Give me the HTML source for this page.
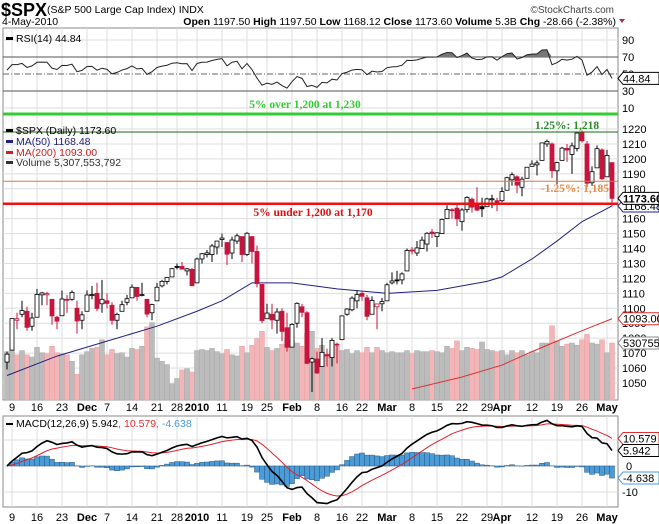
<!DOCTYPE html>
<html><head><meta charset="utf-8"><style>
body{margin:0;background:#fff}
svg{display:block;font-family:"Liberation Sans",sans-serif}
</style></head><body>
<svg id="c" width="659" height="524" viewBox="0 0 659 524" xmlns="http://www.w3.org/2000/svg">
<rect width="659" height="524" fill="#fff"/>
<g>
<text x="1" y="16" font-size="18" font-weight="bold">$SPX</text>
<text x="47" y="13" font-size="10.5">(S&amp;P 500 Large Cap Index) INDX</text>
<text x="614" y="13" font-size="10" text-anchor="end" fill="#444">©StockCharts.com</text>
<text x="2" y="25" font-size="10.5">4-May-2010</text>
<text x="616" y="25" font-size="10.5" text-anchor="end"><tspan font-weight="bold">Open</tspan> 1197.50 <tspan font-weight="bold">High</tspan> 1197.50 <tspan font-weight="bold">Low</tspan> 1168.12 <tspan font-weight="bold">Close</tspan> 1173.60 <tspan font-weight="bold">Volume</tspan> 5.3B <tspan font-weight="bold">Chg</tspan> -28.66 (-2.38%)</text>
<path d="M619 19 l6 0 l-3 4z" fill="#a03060"/>
</g>
<g id="grid"></g>
<g id="marks"></g>
<g id="labels"></g>
</svg>
<script>
const ohlc=[
[1064,1071,1059,1069.3],[1072,1093,1072,1093.1],[1092,1097,1086,1093.0],[1096,1105,1094,1098.5],[1098,1101,1085,1087.2],[1088,1097,1085,1093.5],[1094,1113,1094,1109.3],[1109,1111,1102,1110.3],[1109,1111,1102,1109.8],[1106,1106,1089,1094.9],[1094,1095,1086,1091.4],[1095,1112,1095,1106.2],[1106,1109,1097,1105.7],[1106,1112,1105,1110.6],[1100,1105,1083,1091.5],[1092,1098,1086,1095.6],
[1098,1112,1098,1108.9],[1109,1115,1106,1109.2],[1110,1117,1098,1099.9],[1103,1119,1097,1106.0],[1105,1110,1100,1103.3],[1102,1104,1089,1091.9],[1092,1097,1086,1095.9],[1098,1105,1098,1102.4],[1104,1109,1102,1106.4],[1107,1116,1107,1114.1],[1114,1114,1105,1107.9],[1109,1117,1108,1109.2],[1106,1106,1094,1096.1],[1097,1103,1092,1102.5],[1105,1117,1105,1114.1],[1115,1119,1114,1118.0],[1118,1121,1116,1120.6],[1121,1127,1121,1126.5],[1128,1130,1126,1127.8],[1128,1131,1126,1126.2],[1125,1127,1122,1126.4],[1126,1127,1115,1115.1],
[1117,1134,1117,1133.0],[1133,1137,1130,1136.5],[1136,1139,1134,1137.1],[1136,1143,1131,1141.7],[1141,1145,1136,1145.0],[1146,1150,1141,1147.0],[1144,1144,1129,1136.2],[1137,1148,1133,1145.7],[1145,1150,1143,1148.5],[1148,1148,1131,1136.0],[1136,1151,1135,1150.2],[1148,1148,1130,1138.0],[1138,1142,1114,1116.5],[1116,1116,1090,1091.8],[1093,1103,1093,1096.8],[1096,1103,1086,1092.2],[1092,1100,1083,1097.5],[1098,1100,1078,1084.5],[1087,1097,1071,1073.9],
[1074,1090,1074,1089.2],[1090,1104,1087,1103.3],[1101,1103,1094,1097.3],[1097,1098,1063,1063.1],[1064,1067,1044,1066.2],[1066,1071,1056,1056.7],[1061,1080,1061,1070.5],[1069,1073,1061,1068.1],[1067,1080,1061,1078.5],[1076,1077,1063,1075.5],[1079,1095,1079,1094.9],[1096,1100,1095,1099.5],[1099,1108,1098,1106.8],[1105,1112,1100,1109.2],[1110,1112,1105,1108.0],[1107,1109,1092,1094.6],[1096,1108,1096,1105.2],[1101,1103,1086,1102.9],[1103,1107,1098,1104.5],
[1105,1117,1105,1115.7],[1117,1124,1116,1118.3],[1119,1125,1116,1118.8],[1119,1124,1116,1123.0],[1125,1140,1125,1138.7],[1139,1141,1136,1138.5],[1137,1145,1135,1140.4],[1140,1148,1140,1145.6],[1143,1151,1138,1150.2],[1151,1153,1147,1150.0],[1148,1151,1141,1150.5],[1150,1160,1150,1159.5],[1160,1169,1160,1166.2],[1166,1167,1160,1165.8],[1167,1170,1155,1159.9],[1158,1167,1152,1165.8],[1166,1175,1164,1174.2],[1173,1174,1164,1167.7],[1170,1181,1165,1165.7],[1168,1174,1161,1166.6],[1168,1174,1168,1173.2],[1173,1176,1167,1173.3],[1172,1174,1165,1169.4],
[1172,1181,1171,1178.1],[1179,1188,1179,1187.4],[1186,1191,1182,1189.4],[1188,1189,1177,1182.4],[1181,1188,1175,1186.4],[1187,1194,1187,1194.4],[1195,1199,1195,1196.5],[1196,1199,1189,1197.3],[1199,1211,1199,1210.7],[1210,1213,1208,1211.7],[1210,1211,1187,1192.1],[1192,1198,1183,1197.5],[1199,1208,1199,1207.2],[1207,1210,1198,1205.9],[1203,1211,1190,1208.7],[1207,1218,1205,1217.3],[1218,1219,1211,1212.1],[1210,1212,1181,1183.7],[1184,1195,1182,1191.4],[1194,1209,1194,1206.8],[1206,1207,1186,1186.7],
[1188,1206,1188,1202.3],[1197.5,1197.5,1168.1,1173.6]];
const volumes=[4.5,4.6,4.2,4.6,4.2,4.0,4.9,4.4,4.3,5.0,4.4,4.3,4.2,3.6,2.4,4.2,
4.5,4.8,4.9,5.6,4.2,4.7,4.3,4.4,4.0,4.8,4.7,5.0,6.8,7.2,3.9,3.6,3.3,1.5,2.0,2.8,2.9,2.6,
4.6,4.7,4.6,4.8,4.5,4.3,4.7,4.2,4.1,5.0,4.4,5.1,5.7,6.4,4.9,4.6,4.8,5.2,5.7,
5.5,5.3,5.0,6.2,6.4,4.8,5.1,4.2,4.6,5.0,4.6,4.7,4.3,4.6,4.4,4.9,4.4,4.9,4.6,
4.4,4.5,4.4,4.4,4.6,4.3,4.6,4.5,4.5,4.6,4.5,4.4,5.0,4.8,5.5,4.6,4.9,4.8,4.7,5.4,4.7,4.6,4.5,
4.6,4.2,4.6,4.4,4.6,4.2,4.5,4.4,5.3,5.3,6.9,5.5,5.0,5.2,5.3,5.1,5.6,6.1,5.3,5.2,5.6,
4.4,5.3];
const ma50Idx=[0,10,20,30,38,43,49,57,66,76,86,96,99,105,110,115,121];
const ma50Val=[1055,1068,1078,1088,1098,1105,1117,1117,1113,1110,1112,1118,1121,1133,1145,1158,1168.5];
const ma200Idx=[81,91,99,105,110,115,121];
const ma200Val=[1046,1054,1062,1071,1078,1085,1093];
const priceTicks=[1220,1210,1200,1190,1180,1170,1160,1150,1140,1130,1120,1110,1100,1090,1080,1070,1060,1050];
const rsiTicks=[90,70,50,30,10];
const macdTicks=[0,-10];
const xLabIdx=[1,6,11,16,20,25,30,34,38,43,48,52,57,62,67,71,76,81,86,91,96,99,105,110,115,120];
const xLabTxt=["9","16","23","Dec","7","14","21","28","2010","11","19","25","Feb","8","16","22","Mar","8","15","22","29","Apr","12","19","26","May"];
const boldLab=["Dec","2010","Feb","Mar","Apr","May"];

const NS="http://www.w3.org/2000/svg";
const X=i=>7+5*i;
const PY=p=>129-(p-1220)*1.494;
const RY=r=>74-(r-50)*0.85;
const MY=m=>466-m*2.6;
const VY=v=>400-v*10.75;
function mk(tag,attrs,parent){const e=document.createElementNS(NS,tag);for(const k in attrs)e.setAttribute(k,attrs[k]);(parent||document.getElementById('marks')).appendChild(e);return e;}
const grid=document.getElementById('grid'),labs=document.getElementById('labels');
const L=3,R=618;
const panels=[[28,113],[113,400],[416,507]];
panels.forEach((p,k)=>{const r=mk('rect',{x:L,y:p[0],width:R-L,height:p[1]-p[0],fill:'none',stroke:'#888'},grid);

});
xLabIdx.forEach(i=>{panels.forEach(p=>{const l=mk('line',{x1:X(i),x2:X(i),y1:p[0],y2:p[1],stroke:'#ddd'},grid);

});});
priceTicks.forEach(t=>{const l=mk('line',{x1:L,x2:R,y1:PY(t),y2:PY(t),stroke:'#ddd'},grid);


const tx=mk('text',{x:622,y:PY(t)+4,'font-size':11},labs);tx.textContent=t;

});
rsiTicks.forEach(t=>{const st=(t==70||t==30)?'#555':'#ddd';const l=mk('line',{x1:L,x2:R,y1:RY(t),y2:RY(t),stroke:t==50?'#666':st,'stroke-dasharray':t==50?'6,2,1,2':'none'},grid);


const tx=mk('text',{x:622,y:RY(t)+4,'font-size':11},labs);tx.textContent=t;

});
[10,-10,0].forEach(t=>{const l=mk('line',{x1:L,x2:R,y1:MY(t),y2:MY(t),stroke:'#ddd'},grid);

});
macdTicks.forEach(t=>{const tx=mk('text',{x:t==0?626:622,y:MY(t)+4,'font-size':11},labs);tx.textContent=t;

});
[407,517].forEach(yy=>{xLabIdx.forEach((i,k)=>{const tx=mk('text',{x:X(i),y:yy+4,'font-size':11,'text-anchor':'middle','font-weight':boldLab.includes(xLabTxt[k])?'bold':'normal'},labs);tx.textContent=xLabTxt[k];

});});
const closes=ohlc.map(d=>d[3]);
volumes.forEach((v,i)=>{const up=i==0||closes[i]>=closes[i-1];const r=mk('rect',{x:X(i)-2.5,y:VY(v),width:5,height:400-VY(v),fill:up?'#bcbcbc':'#f2b6b8',stroke:up?'#aaa':'#e8a0a4','stroke-width':0.5});

});
let ag=6,al=5;const rsi=[100-100/(1+ag/al)];
for(let i=1;i<closes.length;i++){const d=closes[i]-closes[i-1];ag=(ag*13+Math.max(d,0))/14;al=(al*13+Math.max(-d,0))/14;rsi.push(100-100/(1+ag/al));}
let fillP='';rsi.forEach((r,i)=>{fillP+=(i?'L':'M')+X(i)+' '+Math.min(RY(r),RY(70));});
for(let i=rsi.length-1;i>=0;i--)fillP+='L'+X(i)+' '+RY(70);
const rf=mk('path',{d:fillP+'Z',fill:'#777'});


const rl=mk('polyline',{points:rsi.map((r,i)=>X(i)+','+RY(r)).join(' '),fill:'none',stroke:'#222','stroke-width':1});


let e12=closes[0],e26=closes[0],sig=0;const macd=[],sg=[];
closes.forEach(c=>{e12=e12+(c-e12)*2/13;e26=e26+(c-e26)*2/27;const m=e12-e26;sig=sig+(m-sig)*2/10;macd.push(m);sg.push(sig);});
macd.forEach((m,i)=>{const h=m-sg[i];const r=mk('rect',{x:X(i)-2.5,y:Math.min(MY(0),MY(h)),width:5,height:Math.abs(MY(h)-MY(0)),fill:'#4a9bd6',stroke:'#2a5a85','stroke-width':0.5});

});
const sl=mk('polyline',{points:sg.map((v,i)=>X(i)+','+MY(v)).join(' '),fill:'none',stroke:'#e0202a','stroke-width':1});


const ml=mk('polyline',{points:macd.map((v,i)=>X(i)+','+MY(v)).join(' '),fill:'none',stroke:'#000','stroke-width':1.6});


const m50=mk('polyline',{points:ma50Idx.map((i,k)=>X(i)+','+PY(ma50Val[k])).join(' '),fill:'none',stroke:'#22227a','stroke-width':1});


const m200=mk('polyline',{points:ma200Idx.map((i,k)=>X(i)+','+PY(ma200Val[k])).join(' '),fill:'none',stroke:'#e03030','stroke-width':1});


ohlc.forEach((d,i)=>{const [o,h,l,c]=d;const col=(i>0&&c<closes[i-1])?'#c8143c':'#000';
const w=mk('line',{x1:X(i),x2:X(i),y1:PY(h),y2:PY(l),stroke:col,'stroke-width':1});


const top=PY(Math.max(o,c)),bot=PY(Math.min(o,c));
const b=mk('rect',{x:X(i)-2,y:top,width:4,height:Math.max(bot-top,1),fill:c<o?col:'#fff',stroke:col,'stroke-width':0.8});

});
[[1230,'#33cc33',3,'line-5pct-over'],[1218,'#1a6a1a',1,'line-1-25pct-over'],[1185,'#e87040',1,'line-1-25pct-under'],[1170,'#ee1111',2.5,'line-5pct-under']].forEach(a=>{const l=mk('line',{x1:L,x2:R,y1:PY(a[0]),y2:PY(a[0]),stroke:a[1],'stroke-width':a[2]});

});
const anno=[[305,108,'5% over 1,200 at 1,230','#33cc33'],[313,216,'5% under 1,200 at 1,170','#dd1111'],[567,129,'1.25%: 1,218','#2a8a2a'],[575,192,'-1.25%: 1,185','#e88a40']];
anno.forEach(a=>{const t=mk('text',{x:a[0],y:a[1],'font-size':11.5,'font-weight':'bold','font-family':'Liberation Serif, serif','text-anchor':'middle',fill:a[3]},labs);t.textContent=a[2];

});
function box(y,txt,col,name){const g=mk('g',{},labs);
mk('path',{d:`M618 ${y} l5 -6 h36 v12 h-36z`,fill:'#fff',stroke:col},g);
const t=mk('text',{x:623,y:y+4,'font-size':11,fill:'#000'},g);t.textContent=txt;}
box(PY(1168.48),'1168.48','#22227a','ma50-value-box');
box(PY(1173.6),'1173.60','#000','close-value-box');
labs.lastChild.querySelector('text').setAttribute('font-weight','bold');
box(PY(1093),'1093.00','#e03030','ma200-value-box');
box(VY(5.3076),'5307553','#888','volume-value-box');
box(RY(44.84),'44.84','#000','rsi-value-box');
box(MY(10.579),'10.579','#e03030','signal-value-box');
box(MY(5.942),'5.942','#000','macd-value-box');
box(MY(-4.638),'-4.638','#4a9bd6','histogram-value-box');
const leg=[[6,42,'RSI(14) 44.84','#000','rsi-legend'],[6,134,'$SPX (Daily) 1173.60','#000','price-legend'],[6,145,'MA(50) 1168.48','#22227a','ma50-legend'],[6,156,'MA(200) 1093.00','#d02020','ma200-legend'],[6,166,'Volume 5,307,553,792','#333','volume-legend']];
leg.forEach(a=>{const t=mk('text',{x:a[0]+10,y:a[1],'font-size':10.5,fill:a[3]},labs);t.textContent=a[2];


const s=mk('rect',{x:a[0],y:a[1]-5,width:7,height:3,fill:a[3]},labs);

});
const mt=mk('text',{x:16,y:427,'font-size':10.5},labs);


mt.innerHTML='MACD(12,26,9) 5.942<tspan fill="#e03030">, 10.579</tspan><tspan fill="#4a9bd6">, -4.638</tspan>';
const ms=mk('rect',{x:6,y:423,width:7,height:2,fill:'#000'},labs);


</script>
</body></html>
